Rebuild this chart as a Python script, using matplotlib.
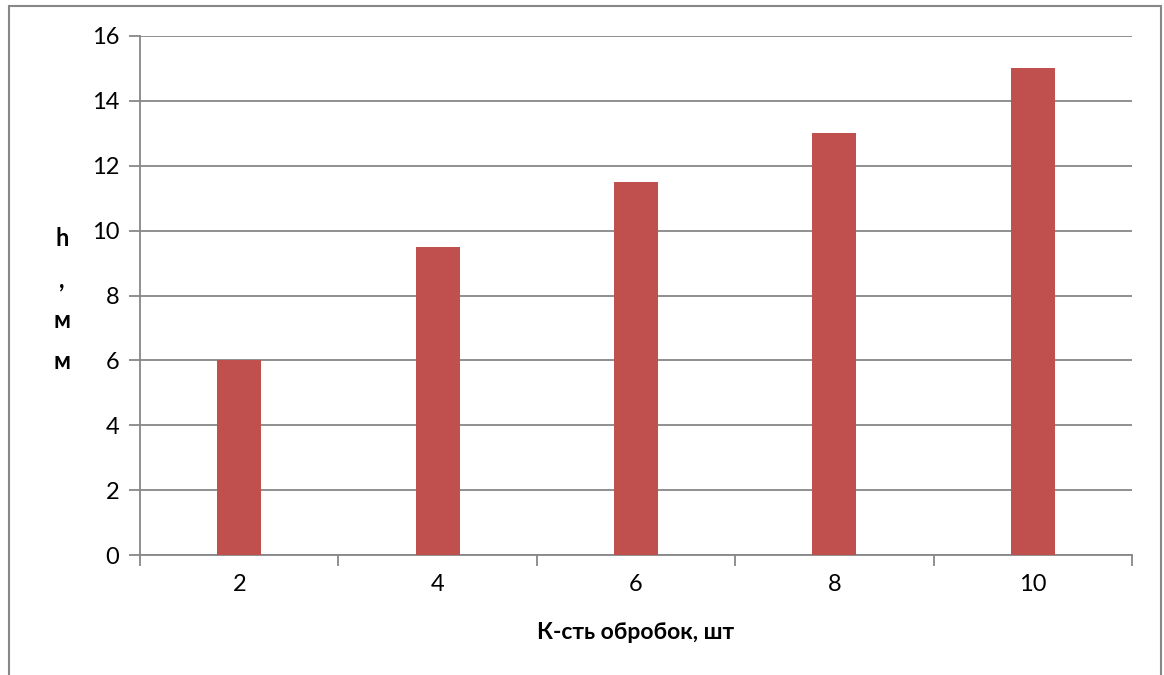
import matplotlib.pyplot as plt
from matplotlib.patches import Rectangle

# treatment count vs. depth
counts = ['2', '4', '6', '8', '10']
depth = [6, 9.5, 11.5, 13, 15]

bar_color = '#C0504D'
line_color = '#878787'
plt.rcParams['font.family'] = ['Lato', 'DejaVu Sans']

fig = plt.figure(figsize=(11.64, 6.75), dpi=100)
ax = fig.add_axes([140 / 1164, 120 / 675, 992 / 1164, 519 / 675])

x = range(len(counts))
ax.bar(x, depth, width=0.222, color=bar_color, zorder=3)

ax.set_xlim(-0.5, len(counts) - 0.5)
ax.set_ylim(0, 16)
ax.set_yticks(range(0, 17, 2))
ax.set_xticks(list(x))
ax.set_xticklabels(counts)
ax.set_xticks([i - 0.5 for i in range(len(counts) + 1)], minor=True)

ax.grid(axis='y', color=line_color, linewidth=1.3, zorder=0)
for side in ['top', 'right']:
    ax.spines[side].set_visible(False)
for side in ['left', 'bottom']:
    ax.spines[side].set_color(line_color)
    ax.spines[side].set_linewidth(1.3)

ax.tick_params(axis='y', length=8, width=1.3, color=line_color, labelsize=17, pad=7)
ax.tick_params(axis='x', which='major', length=0, labelsize=17, pad=14)
ax.tick_params(axis='x', which='minor', length=8, width=1.3, color=line_color)

ax.set_xlabel('К-сть обробок, шт', fontsize=16.5, fontweight='bold', labelpad=19)
fig.text(62 / 1164, 1 - 300 / 675, 'h\n,\nм\nм', fontsize=17, fontweight='bold',
         ha='center', va='center', linespacing=1.95)

# chart frame
fig.add_artist(Rectangle((9 / 1164, -0.05), 1152 / 1164, 1.05 - 6 / 675,
                         transform=fig.transFigure, fill=False,
                         edgecolor=line_color, linewidth=1.5))

fig.savefig('out.png', dpi=100)
